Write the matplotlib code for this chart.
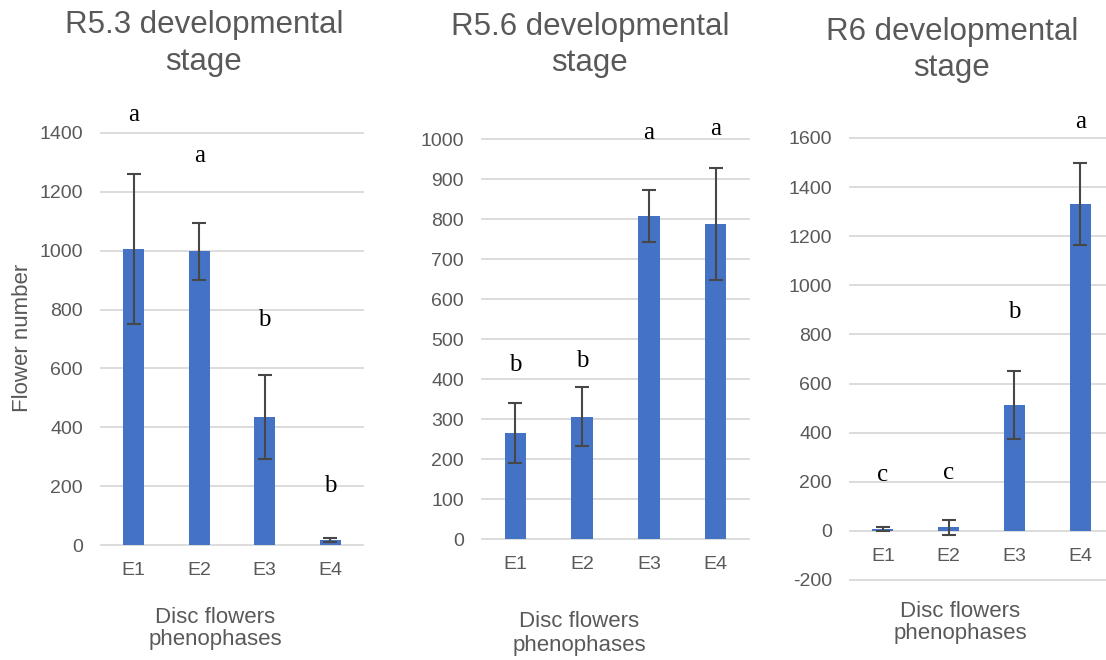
import matplotlib
matplotlib.use('Agg')
import matplotlib.pyplot as plt
import numpy as np

# ---------------- data ----------------
phases = ['E1', 'E2', 'E3', 'E4']

r53_mean = [1005, 998, 435, 17]
r53_err = [255, 97, 143, 7]
r53_letters = ['a', 'a', 'b', 'b']
r53_letter_y = [1441, 1302, 744, 179]

r56_mean = [266, 306, 807, 787]
r56_err = [75, 74, 65, 140]
r56_letters = ['b', 'b', 'a', 'a']
r56_letter_y = [420, 431, 1000, 1011]

r6_mean = [7, 14, 513, 1332]
r6_err = [9, 31, 140, 167]
r6_letters = ['c', 'c', 'b', 'a']
r6_letter_y = [204, 213, 865, 1639]

# ---------------- style ----------------
plt.rcParams['font.family'] = ['Liberation Sans', 'DejaVu Sans']
plt.rcParams['axes.unicode_minus'] = False
BAR = '#4472C4'
GREY = '#595959'
GRID = '#D9D9D9'
ERR = '#474747'

W, H = 1106, 660
fig = plt.figure(figsize=(W / 100, H / 100), dpi=100)


def px_axes(left, right, top, bottom):
    # pixel box -> figure fraction
    return fig.add_axes([left / W, (H - bottom) / H, (right - left) / W, (bottom - top) / H])


panels = [
    # means, errs, letters, letter_y, ylim, step, box, title x/baselines, xlabel x/baselines
    (r53_mean, r53_err, r53_letters, r53_letter_y, (0, 1400), 200, (101, 363, 133, 545),
     204, (33, 70), 215, (623, 645)),
    (r56_mean, r56_err, r56_letters, r56_letter_y, (0, 1000), 100, (482, 749, 139, 539),
     590, (35, 71), 579, (627, 651)),
    (r6_mean, r6_err, r6_letters, r6_letter_y, (-200, 1600), 200, (850, 1113, 138, 580),
     952, (40, 76), 960, (617, 639)),
]
titles = ['R5.3 developmental', 'R5.6 developmental', 'R6 developmental']

x = np.arange(len(phases))
for i, (mean, err, letters, ly, ylim, step, box, tx, tby, lx, lby) in enumerate(panels):
    ax = px_axes(*box)
    ax.bar(x, mean, width=0.32, color=BAR, zorder=2)
    ax.errorbar(x, mean, yerr=err, fmt='none', ecolor=ERR, elinewidth=1.5,
                capsize=5, capthick=1.5, zorder=3)
    for xi, let, yy in zip(x, letters, ly):
        ax.text(xi, yy, let, ha='center', va='baseline', fontsize=18,
                family='Liberation Serif', color='black', clip_on=False)

    ax.set_xlim(-0.5, len(phases) - 0.5)
    ax.set_ylim(*ylim)
    ax.set_yticks(np.arange(ylim[0], ylim[1] + 1, step))
    ax.set_xticks(x)
    ax.set_xticklabels(phases)
    ax.yaxis.grid(True, color=GRID, linewidth=1.3, clip_on=False)
    ax.set_axisbelow(True)
    for s in ax.spines.values():
        s.set_visible(False)
    ax.spines['bottom'].set_position(('data', 0))
    ax.tick_params(axis='both', length=0, labelsize=14, colors=GREY)
    ax.tick_params(axis='y', pad=13)
    ax.tick_params(axis='x', pad=12)

    # titles (two lines)
    fig.text(tx / W, 1 - tby[0] / H, titles[i], ha='center', va='baseline',
             fontsize=22.5, color=GREY)
    fig.text(tx / W, 1 - tby[1] / H, 'stage', ha='center', va='baseline',
             fontsize=22.5, color=GREY)
    # x axis title
    fig.text(lx / W, 1 - lby[0] / H, 'Disc flowers', ha='center', va='baseline',
             fontsize=16, color=GREY)
    fig.text(lx / W, 1 - lby[1] / H, 'phenophases', ha='center', va='baseline',
             fontsize=16, color=GREY)

fig.text(23 / W, 1 - 338 / H, 'Flower number', rotation=90, ha='center', va='center',
         fontsize=16, color=GREY)

fig.savefig('out.png', dpi=100)
